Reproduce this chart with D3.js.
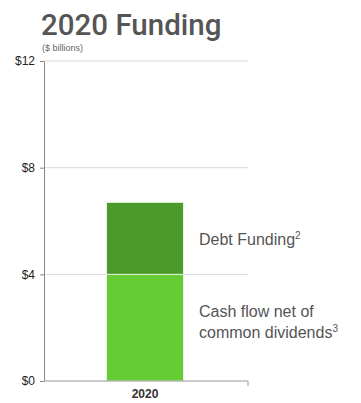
<!DOCTYPE html>
<html>
<head>
<meta charset="utf-8">
<script src="https://cdn.jsdelivr.net/npm/d3@7/dist/d3.min.js"></script>
<style>
  html, body { margin: 0; padding: 0; background: #fff; }
  svg { display: block; font-family: "Liberation Sans", Arial, sans-serif; }
</style>
</head>
<body>
<svg id="chart" width="361" height="403"></svg>
<script>
// Funding sources for 2020, $ billions
const categories = ["2020"];
const cashFlow = [4.0];      // Cash flow net of common dividends
const debtFunding = [2.7];   // Debt funding
const yTicks = [0, 4, 8, 12];
const seriesNames = ["Cash flow net of common dividends", "Debt Funding"];

const svg = d3.select("#chart");
const margin = { left: 44, right: 115, top: 61, bottom: 22 };
const W = 361, H = 403;

const x = d3.scaleBand().domain(categories).range([margin.left, W - margin.right]).paddingInner(0.3).paddingOuter(0.3);
const y = d3.scaleLinear().domain([0, 12]).range([H - margin.bottom, margin.top]);

// Title
svg.append("text").attr("x", 41).attr("y", 34.5)
  .attr("font-size", 29.5).attr("font-weight", 500).attr("fill", "#555")
  .attr("font-family", "Roboto, 'Liberation Sans', sans-serif")
  .text("2020 Funding");
svg.append("text").attr("x", 42).attr("y", 51)
  .attr("font-size", 9).attr("fill", "#666").text("($ billions)");

// Gridlines
svg.append("g").selectAll("line").data(yTicks.filter(d => d > 0)).join("line")
  .attr("x1", margin.left).attr("x2", W - margin.right + 2)
  .attr("y1", d => y(d)).attr("y2", d => y(d))
  .attr("stroke", "#d9d9d9").attr("stroke-width", 1);

// Stacked bars
const stackData = categories.map((c, i) => ({ cat: c, cash: cashFlow[i], debt: debtFunding[i] }));
const stack = d3.stack().keys(["cash", "debt"])(stackData);
const colors = { cash: "#66cc33", debt: "#4c9a2a" };
const bw = 77;
svg.append("g").selectAll("g").data(stack).join("g")
  .attr("fill", d => colors[d.key])
  .selectAll("rect").data(d => d).join("rect")
  .attr("x", d => x(d.data.cat) + x.bandwidth() / 2 - bw / 2)
  .attr("width", bw)
  .attr("y", d => y(d[1]))
  .attr("height", d => y(d[0]) - y(d[1]))
  .attr("stroke", "#e8f3e0").attr("stroke-width", 1);

// Y axis
const yAxis = d3.axisLeft(y).tickValues(yTicks).tickFormat(d => "$" + d).tickSize(4).tickSizeOuter(0);
const gy = svg.append("g").attr("transform", `translate(${margin.left},0)`).call(yAxis);
gy.select(".domain").attr("stroke", "#888");
gy.selectAll(".tick line").attr("stroke", "#888");
gy.selectAll(".tick text").attr("font-size", 12).attr("fill", "#222")
  .attr("font-family", "'Liberation Sans', Arial, sans-serif").attr("x", -9);

// X axis
const xAxis = d3.axisBottom(x).tickSize(0).tickSizeOuter(4);
const gx = svg.append("g").attr("transform", `translate(0,${y(0)})`).call(xAxis);
gx.select(".domain").attr("stroke", "#999").attr("d", `M${margin.left},0H${W - margin.right + 2}V5`);
gx.selectAll(".tick text").attr("font-size", 12).attr("font-weight", "bold").attr("fill", "#333")
  .attr("dy", "0.71em").attr("y", 8);

// Series labels beside the bar
const labelX = 199;
const debtLabel = svg.append("text").attr("x", labelX)
  .attr("y", y(cashFlow[0] + debtFunding[0] / 2) + 7)
  .attr("font-size", 16).attr("fill", "#555");
debtLabel.append("tspan").text(seriesNames[1]);
debtLabel.append("tspan").attr("font-size", 10).attr("dy", -6).text("2");

const cashLabel = svg.append("text").attr("x", labelX).attr("font-size", 16).attr("fill", "#555");
cashLabel.append("tspan").attr("x", labelX).attr("y", y(cashFlow[0] / 2) - 11).text("Cash flow net of");
cashLabel.append("tspan").attr("x", labelX).attr("dy", 21).text("common dividends");
cashLabel.append("tspan").attr("font-size", 10).attr("dy", -6).text("3");
</script>
</body>
</html>
